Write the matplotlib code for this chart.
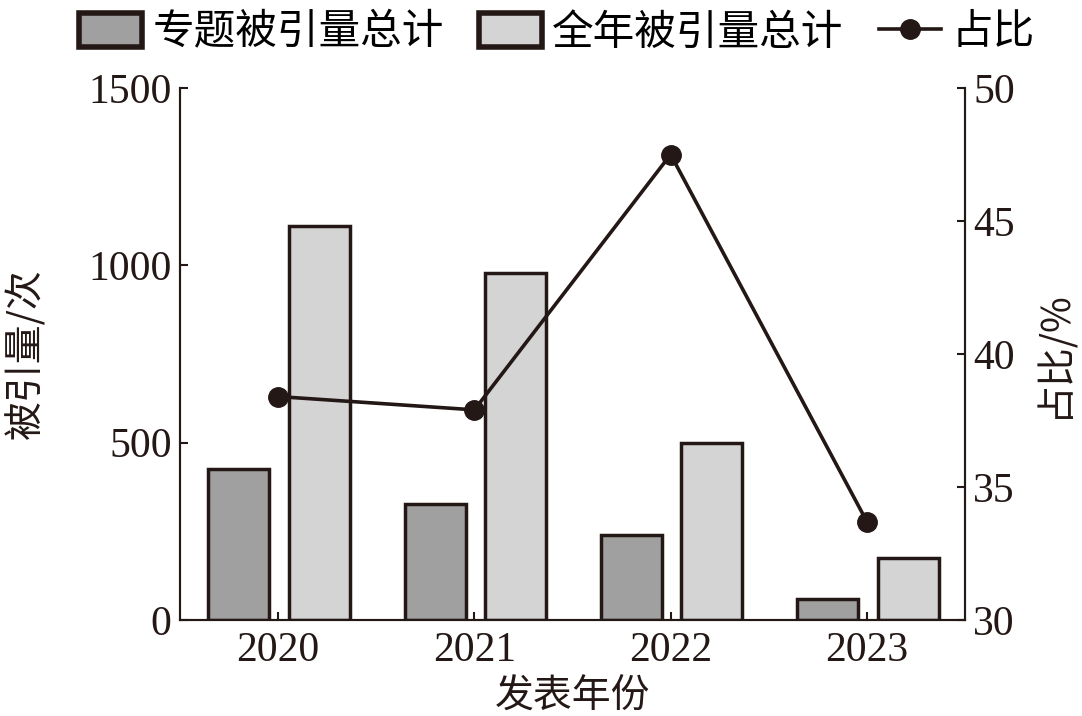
import numpy as np
import matplotlib.pyplot as plt

plt.rcParams['font.family'] = ['Liberation Serif', 'Noto Sans CJK SC']
plt.rcParams['axes.unicode_minus'] = False

years = ['2020', '2021', '2022', '2023']
topic_cites = [425, 327, 240, 59]
total_cites = [1111, 978, 499, 175]
ratio = [38.4, 37.9, 47.5, 33.7]

ink = '#231815'
fig = plt.figure(figsize=(10.82, 7.16), dpi=100)
ax = fig.add_axes([180 / 1082, 96 / 716, 785 / 1082, 532 / 716])
ax2 = ax.twinx()

x = np.arange(len(years))
w = 0.31
b1 = ax.bar(x - 0.2, topic_cites, w, color='#a0a0a0', edgecolor=ink, linewidth=2.5, label='专题被引量总计')
b2 = ax.bar(x + 0.21, total_cites, w, color='#d4d4d4', edgecolor=ink, linewidth=2.5, label='全年被引量总计')
ln, = ax2.plot(x, ratio, color=ink, linewidth=2.6, marker='o', markersize=14, label='占比')

ax.set_xlim(-0.5, 3.5)
ax.set_ylim(0, 1500)
ax2.set_ylim(30, 50)
ax.set_yticks([0, 500, 1000, 1500])
ax2.set_yticks([30, 35, 40, 45, 50])
ax.set_xticks(x)
ax.set_xticklabels(years)

for a in (ax, ax2):
    a.spines['top'].set_visible(False)
    for s in a.spines.values():
        s.set_color(ink)
        s.set_linewidth(1.5)
    a.tick_params(direction='in', length=6, width=1.5, colors=ink, labelsize=30, pad=6)
ax.tick_params(axis='x', length=6, pad=8)

ax.set_xlabel('发表年份', fontsize=28, color=ink, family=['Noto Sans CJK SC'], labelpad=5)
ax.set_ylabel('被引量/次', fontsize=28, color=ink, family=['Noto Sans CJK SC', 'Liberation Serif'], labelpad=30)
ax2.set_ylabel('占比/%', fontsize=28, color=ink, family=['Noto Sans CJK SC', 'Liberation Serif'], labelpad=14)

leg = fig.legend(handles=[b1, b2, ln], loc='upper center', bbox_to_anchor=(0.515, 1.035), ncol=3,
                 frameon=False, prop={'family': 'Noto Sans CJK SC', 'size': 30},
                 handlelength=1.5, handleheight=0.9, handletextpad=0.25, columnspacing=0.85)
for h in leg.legend_handles[:2]:
    h.set_linewidth(4)

fig.savefig('out.png', dpi=100)
